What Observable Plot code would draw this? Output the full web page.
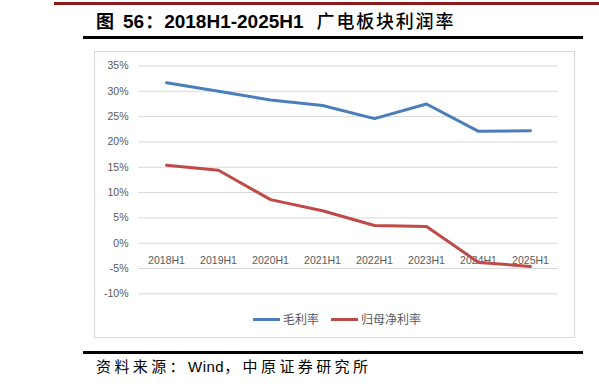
<!DOCTYPE html>
<html>
<head>
<meta charset="utf-8">
<script src="https://cdn.jsdelivr.net/npm/d3@7"></script>
<script src="https://cdn.jsdelivr.net/npm/@observablehq/plot@0.6"></script>
<style>
  body { margin: 0; background: #fff; }
  #wrap { position: relative; width: 599px; height: 389px; overflow: hidden; background: #fff; font-family: "Noto Sans CJK SC", sans-serif; }
  .redline { position: absolute; left: 54px; top: 2px; width: 545px; height: 3px; background: #8c1c1c; }
  .title { position: absolute; left: 96px; top: 7px; font-size: 18px; line-height: 26px; color: #000; white-space: nowrap; }
  .title span { display: inline-block; }
  .title .lat { font-family: "Liberation Sans", Arial, sans-serif; font-weight: bold; font-size: 19px; }
  .title .cjk { font-family: "Noto Sans CJK SC", sans-serif; font-weight: bold; }
  .title .tail { font-family: "Noto Sans CJK SC", sans-serif; font-weight: 500; letter-spacing: 1.8px; }
  .blackline { position: absolute; left: 83px; top: 36px; width: 500px; height: 3px; background: #000; }
  #box { position: absolute; left: 94px; top: 51px; width: 481px; height: 287px; box-sizing: border-box; border: 1px solid #d9d9d9; }
  #plot { position: absolute; left: 0; top: 0; }
  .legend { position: absolute; top: 310px; height: 18px; font-size: 12px; line-height: 18px; color: #595959; white-space: nowrap; }
  .legend .sw { display: inline-block; width: 27px; height: 3px; vertical-align: middle; margin-right: 3px; position: relative; top: -1px; }
  .blackline2 { position: absolute; left: 83px; top: 351px; width: 500px; height: 3px; background: #000; }
  .source { position: absolute; left: 96px; top: 355px; font-size: 15px; line-height: 22px; color: #000; white-space: nowrap; letter-spacing: 3.4px; }
  .source .lat { font-family: "Liberation Sans", Arial, sans-serif; letter-spacing: 0.5px; }
</style>
</head>
<body>
<div id="wrap">
  <div class="redline"></div>
  <div class="title"><span class="cjk">图</span><span class="lat" style="margin-left:9px">56</span><span class="cjk" style="margin-left:1px">：</span><span class="lat" style="margin-left:1px">2018H1-2025H1</span><span class="tail" style="margin-left:13px">广电板块利润率</span></div>
  <div class="blackline"></div>
  <div id="box"></div>
  <div id="plot"></div>
  <div id="legend"></div>
  <div class="blackline2"></div>
  <div class="source">资料来源：<span class="lat">Wind</span>，中原证券研究所</div>
</div>
<script>
const categories = ["2018H1", "2019H1", "2020H1", "2021H1", "2022H1", "2023H1", "2024H1", "2025H1"];
const grossMargin = [31.7, 30.0, 28.3, 27.2, 24.6, 27.5, 22.1, 22.2];
const netMargin = [15.4, 14.4, 8.6, 6.4, 3.5, 3.3, -3.8, -4.6];
const yTicks = [-10, -5, 0, 5, 10, 15, 20, 25, 30, 35];
const seriesNames = ["毛利率", "归母净利率"];
const seriesColors = ["#4a7ebb", "#be4b48"];

const rows = [];
categories.forEach((c, i) => {
  rows.push({cat: c, series: seriesNames[0], value: grossMargin[i]});
  rows.push({cat: c, series: seriesNames[1], value: netMargin[i]});
});

const axisFont = "'Liberation Sans', Arial, sans-serif";

const chart = Plot.plot({
  width: 599,
  height: 300,
  marginLeft: 138,
  marginRight: 41,
  marginTop: 65.5,
  marginBottom: 6.7,
  style: {background: "transparent", overflow: "visible"},
  x: {type: "point", domain: categories, padding: 0.5, axis: null},
  y: {domain: [-10, 35], axis: null},
  color: {domain: seriesNames, range: seriesColors},
  marks: [
    Plot.ruleY(yTicks, {stroke: "#d9d9d9", strokeWidth: 1}),
    Plot.axisY(yTicks, {
      tickSize: 0, tickPadding: 10, tickFormat: d => d + "%",
      fill: "#595959", fontSize: 10.5, fontFamily: axisFont, label: null
    }),
    Plot.text(categories, {
      x: d => d, y: 0, dy: 17, fill: "#595959", fontSize: 10.5, fontFamily: axisFont
    }),
    Plot.line(rows, {
      x: "cat", y: "value", z: "series", stroke: "series",
      strokeWidth: 3, strokeLinejoin: "round", strokeLinecap: "round"
    })
  ]
});
document.getElementById("plot").appendChild(chart);

// legend
const legend = document.getElementById("legend");
const legendLefts = [253, 331];
seriesNames.forEach((name, i) => {
  const item = document.createElement("div");
  item.className = "legend";
  item.style.left = legendLefts[i] + "px";
  const sw = document.createElement("span");
  sw.className = "sw";
  sw.style.background = seriesColors[i];
  item.appendChild(sw);
  item.appendChild(document.createTextNode(name));
  legend.appendChild(item);
});
</script>
</body>
</html>
